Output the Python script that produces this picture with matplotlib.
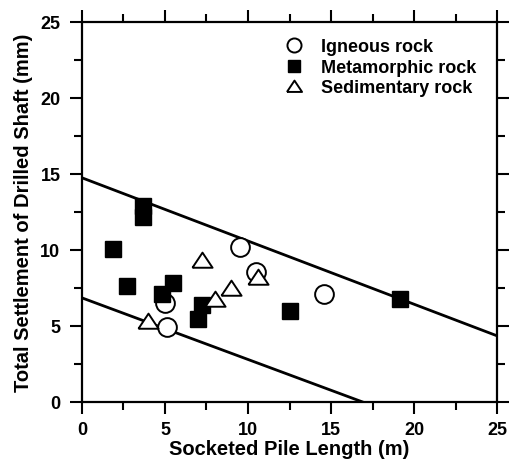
import matplotlib
matplotlib.use("Agg")
import matplotlib.pyplot as plt
import numpy as np
from matplotlib.ticker import MultipleLocator

plt.rcParams['font.family'] = ['Liberation Sans', 'DejaVu Sans']
plt.rcParams['font.weight'] = 'bold'

igneous_x = [9.5, 10.5, 5.0, 5.1, 14.55]
igneous_y = [10.2, 8.55, 6.5, 4.95, 7.1]

meta_x = [3.7, 3.7, 1.9, 2.7, 4.8, 5.5, 7.2, 7.0, 12.5, 19.15]
meta_y = [12.9, 12.2, 10.05, 7.6, 7.1, 7.85, 6.4, 5.45, 6.0, 6.8]

sed_x = [7.2, 9.0, 8.0, 10.6, 4.0]
sed_y = [9.35, 7.5, 6.8, 8.2, 5.35]

upper_line_x = [0, 25]
upper_line_y = [14.75, 4.35]
lower_line_x = [0, 16.9]
lower_line_y = [6.85, 0.0]

tri = [(-1, -0.72), (1, -0.72), (0, 0.78), (-1, -0.72)]

fig = plt.figure(figsize=(5.12, 4.64), dpi=100)
ax = fig.add_axes([0.160, 0.1315, 0.811, 0.819])

ax.plot(upper_line_x, upper_line_y, color='black', lw=2.0, zorder=1)
ax.plot(lower_line_x, lower_line_y, color='black', lw=2.0, zorder=1)

ax.plot(igneous_x, igneous_y, linestyle='none', marker='o', ms=13.5,
        mfc='white', mec='black', mew=1.4, label='Igneous rock', zorder=3)
ax.plot(meta_x, meta_y, linestyle='none', marker='s', ms=12,
        mfc='black', mec='black', mew=1, label='Metamorphic rock', zorder=3)
ax.plot(sed_x, sed_y, linestyle='none', marker=tri, ms=14.5,
        mfc='white', mec='black', mew=1.4, label='Sedimentary rock', zorder=4)

ax.set_xlim(0, 25)
ax.set_ylim(0, 25)
ax.xaxis.set_major_locator(MultipleLocator(5))
ax.xaxis.set_minor_locator(MultipleLocator(2.5))
ax.yaxis.set_major_locator(MultipleLocator(5))
ax.yaxis.set_minor_locator(MultipleLocator(2.5))
ax.tick_params(which='both', direction='out', top=True, right=True,
               width=1.5, labelsize=13)
ax.tick_params(axis='x', which='major', pad=5)
ax.tick_params(axis='y', which='major', pad=7)
ax.tick_params(which='major', length=8.5)
ax.tick_params(which='minor', length=5.5)
for s in ax.spines.values():
    s.set_linewidth(1.6)

ax.set_xlabel('Socketed Pile Length (m)', fontsize=14.5, fontweight='bold', labelpad=1)
ax.set_ylabel('Total Settlement of Drilled Shaft (mm)', fontsize=14.5, fontweight='bold', labelpad=5)

leg = ax.legend(loc='upper right', bbox_to_anchor=(0.99, 1.0), frameon=False,
                fontsize=13, handlelength=1.0, handletextpad=1.0,
                labelspacing=0.2, markerscale=0.75)

fig.savefig('out.png', dpi=100)
